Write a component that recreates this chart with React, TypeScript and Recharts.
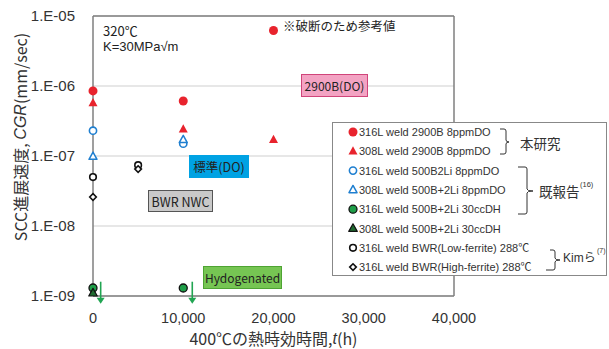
import React from 'react';
import { ScatterChart, Scatter, XAxis, YAxis, CartesianGrid, ReferenceLine, Label } from 'recharts';

// aging time (h) / crack growth rate (mm/sec) per series
const hours316B = [0, 10000, 20000];
const cgr316B = [8.5e-7, 6.1e-7, 6.2e-6];
const hours308B = [0, 10000, 20000];
const cgr308B = [5.7e-7, 2.4e-7, 1.7e-7];
const hours316Li = [0, 10000];
const cgr316Li = [2.3e-7, 1.5e-7];
const hours308Li = [0, 10000];
const cgr308Li = [9.8e-8, 1.7e-7];
const hours316DH = [0, 10000];
const cgr316DH = [1.3e-9, 1.3e-9];
const hours308DH = [0];
const cgr308DH = [1.1e-9];
const hoursLowFe = [0, 5000];
const cgrLowFe = [5.0e-8, 7.4e-8];
const hoursHighFe = [0, 5000];
const cgrHighFe = [2.6e-8, 6.5e-8];
// "below detection" arrows
const arrowHours = [850, 11000];
const arrowCgr = [1.6e-9, 1.6e-9];

const xTicks = [0, 10000, 20000, 30000, 40000];
const yTicks = [1e-9, 1e-8, 1e-7, 1e-6, 1e-5];

const FONT = '"Liberation Sans", Arial, "Noto Sans CJK JP", sans-serif';
const JP = '"Noto Sans CJK JP", "Liberation Sans", sans-serif';
const RED = '#e8232d';
const BLUE = '#1f7fd0';
const GREEN = '#1e9e48';
const ARROW = '#21a552';

const zip = (xs: number[], ys: number[]) => xs.map((x, i) => ({ x, y: ys[i] }));

const circle = (fill: string, stroke: string, r: number, sw: number) => (p: any) =>
  <circle cx={p.cx} cy={p.cy} r={r} fill={fill} stroke={stroke} strokeWidth={sw} />;

const triangle = (fill: string, stroke: string, s: number, sw: number) => (p: any) => {
  const h = s * 0.9;
  const pts = `${p.cx},${p.cy - h * 0.62} ${p.cx - s / 2},${p.cy + h * 0.38} ${p.cx + s / 2},${p.cy + h * 0.38}`;
  return <polygon points={pts} fill={fill} stroke={stroke} strokeWidth={sw} strokeLinejoin="round" />;
};

const diamond = (stroke: string, s: number) => (p: any) => {
  const pts = `${p.cx},${p.cy - s} ${p.cx + s},${p.cy} ${p.cx},${p.cy + s} ${p.cx - s},${p.cy}`;
  return <polygon points={pts} fill="#fff" stroke={stroke} strokeWidth={1.6} />;
};

const arrow = (p: any) => (
  <g>
    <line x1={p.cx} y1={p.cy} x2={p.cx} y2={p.cy + 18} stroke={ARROW} strokeWidth={1.6} />
    <polygon points={`${p.cx - 4},${p.cy + 16} ${p.cx + 4},${p.cy + 16} ${p.cx},${p.cy + 22}`} fill={ARROW} />
  </g>
);

const series = [
  { name: '316L weld 2900B 8ppmDO', data: zip(hours316B, cgr316B), shape: circle(RED, RED, 4.5, 0) },
  { name: '308L weld 2900B 8ppmDO', data: zip(hours308B, cgr308B), shape: triangle(RED, RED, 9, 0) },
  { name: '316L weld 500B2Li 8ppmDO', data: zip(hours316Li, cgr316Li), shape: circle('#fff', BLUE, 3.6, 1.6) },
  { name: '308L weld 500B+2Li 8ppmDO', data: zip(hours308Li, cgr308Li), shape: triangle('#fff', BLUE, 8, 1.5) },
  { name: '316L weld 500B+2Li 30ccDH', data: zip(hours316DH, cgr316DH), shape: circle(GREEN, '#111', 4, 1.3) },
  { name: '308L weld 500B+2Li 30ccDH', data: zip(hours308DH, cgr308DH), shape: triangle('#1f6b30', '#111', 8.5, 1.2) },
  { name: '316L weld BWR(Low-ferrite) 288℃', data: zip(hoursLowFe, cgrLowFe), shape: circle('#fff', '#111', 3.3, 1.6) },
  { name: '316L weld BWR(High-ferrite) 288℃', data: zip(hoursHighFe, cgrHighFe), shape: diamond('#111', 3.3) },
];

const fmtY = (v: number) => `1.E-${String(Math.round(-Math.log10(v))).padStart(2, '0')}`;
const fmtX = (v: number) => v.toLocaleString('en-US');

const YTitle = () => (
  <text x={20} y={137} transform="rotate(-90 20 137)" textAnchor="middle" dominantBaseline="central"
    fontSize={16} fill="#333" fontFamily={JP}>
    <tspan>SCC進展速度, </tspan>
    <tspan fontStyle="italic" fontFamily={FONT}>CGR</tspan>
    <tspan>(mm/sec)</tspan>
  </text>
);

const XTitle = (props: any) => {
  const vb = props.viewBox || { x: 93, y: 296, width: 361 };
  return (
    <text x={vb.x + vb.width / 2} y={vb.y + 42} textAnchor="middle" dominantBaseline="central"
      fontSize={16} fill="#333" fontFamily={JP}>
      <tspan>400℃の熱時効時間,</tspan>
      <tspan fontStyle="italic" fontFamily={FONT}>t</tspan>
      <tspan>(h)</tspan>
    </text>
  );
};

const boxBase: React.CSSProperties = {
  position: 'absolute', display: 'flex', alignItems: 'center', justifyContent: 'center',
  boxSizing: 'border-box', fontFamily: JP, color: '#222', whiteSpace: 'nowrap',
};

const legendRowY = [10, 29.3, 48.6, 67.9, 87.2, 106.5, 125.8, 145.1];

function LegendBox() {
  return (
    <svg width={276} height={154} style={{ position: 'absolute', left: 332, top: 122 }}>
      <rect x={0.5} y={0.5} width={274} height={153} fill="#fff" stroke="#888" strokeWidth={1} />
      {series.map((s, i) => (
        <g key={s.name}>
          {s.shape({ cx: 21, cy: legendRowY[i] })}
          <text x={27} y={legendRowY[i]} dominantBaseline="central" fontSize={11} fill="#333" fontFamily={FONT}>
            {s.name}
          </text>
        </g>
      ))}
      <g fill="none" stroke="#333" strokeWidth={1}>
        <path d="M168,7 L172,7 Q174,7 174,9 L174,18 Q174,20 177,20 Q174,20 174,22 L174,30 Q174,32 172,32 L168,32" />
        <path d="M186,45 L193,45 Q195,45 195,47 L195,67 Q195,69 201,69 Q195,69 195,71 L195,90 Q195,92 193,92 L186,92" />
        <path d="M218,128 L221,128 Q223,128 223,130 L223,136 Q223,138 228,138 Q223,138 223,140 L223,146 Q223,148 221,148 L214,148" />
      </g>
      <text x={188} y={21} dominantBaseline="central" fontSize={13.5} fill="#333" fontFamily={JP}>本研究</text>
      <text x={207} y={69} dominantBaseline="central" fontSize={13.5} fill="#333" fontFamily={JP}>既報告</text>
      <text x={248} y={62} dominantBaseline="central" fontSize={7.5} fill="#333" fontFamily={FONT}>(16)</text>
      <text x={231} y={136} dominantBaseline="central" fontSize={12} fill="#333" fontFamily={FONT}>Kimら</text>
      <text x={265} y={128} dominantBaseline="central" fontSize={7} fill="#333" fontFamily={FONT}>(7)</text>
    </svg>
  );
}

export default function App() {
  return (
    <div style={{ position: 'absolute', left: 0, top: 0, width: 609, height: 349, background: '#fff', overflow: 'hidden' }}>
      <ScatterChart width={609} height={349} margin={{ top: 16, right: 155, bottom: 0, left: 0 }}>
        <CartesianGrid vertical={false} stroke="#cfcfcf" strokeWidth={1} />
        <XAxis type="number" dataKey="x" domain={[0, 40000]} ticks={xTicks} tickFormatter={fmtX}
          height={53} tickLine={false} tickMargin={11} axisLine={{ stroke: '#7f7f7f', strokeWidth: 1.5 }}
          tick={{ fontSize: 14.5, fill: '#333', fontFamily: FONT }}>
          <Label content={<XTitle />} />
        </XAxis>
        <YAxis type="number" dataKey="y" scale="log" domain={[1e-9, 1e-5]} ticks={yTicks} tickFormatter={fmtY}
          width={93} tickLine={false} tickMargin={12} axisLine={{ stroke: '#7f7f7f', strokeWidth: 1.5 }}
          tick={{ fontSize: 15, fill: '#333', fontFamily: FONT }}>
          <Label content={<YTitle />} />
        </YAxis>
        <ReferenceLine y={1e-5} stroke="#7f7f7f" strokeWidth={1.5} />
        <ReferenceLine x={40000} stroke="#7f7f7f" strokeWidth={1.5} />
        {series.map((s) => (
          <Scatter key={s.name} name={s.name} data={s.data} shape={s.shape} isAnimationActive={false} />
        ))}
        <Scatter name="arrows" data={zip(arrowHours, arrowCgr)} shape={arrow} isAnimationActive={false} />
      </ScatterChart>

      <div style={{ position: 'absolute', left: 103, top: 23, fontSize: 13, color: '#222', fontFamily: JP, lineHeight: '15px' }}>
        320℃
      </div>
      <div style={{ position: 'absolute', left: 103, top: 39, fontSize: 13, color: '#222', fontFamily: FONT, lineHeight: '15px' }}>
        K=30MPa√m
      </div>
      <div style={{ position: 'absolute', left: 283, top: 18, fontSize: 12.5, color: '#222', fontFamily: JP, lineHeight: '16px' }}>
        ※破断のため参考値
      </div>
      <div style={{ ...boxBase, left: 301, top: 74, width: 67, height: 23, background: '#f3a3c3', border: '1px solid #d0457a', fontSize: 12 }}>
        2900B(DO)
      </div>
      <div style={{ ...boxBase, left: 189, top: 155, width: 60, height: 23, background: '#00a2e3', fontSize: 12.5 }}>
        標準(DO)
      </div>
      <div style={{ ...boxBase, left: 148, top: 190, width: 65, height: 22, background: '#c9c9c9', border: '1px solid #555', fontSize: 12.5 }}>
        BWR NWC
      </div>
      <div style={{ ...boxBase, left: 203, top: 266, width: 79, height: 23, background: '#76c553', border: '1px solid #4ea433', fontSize: 12 }}>
        Hydogenated
      </div>
      <LegendBox />
    </div>
  );
}
